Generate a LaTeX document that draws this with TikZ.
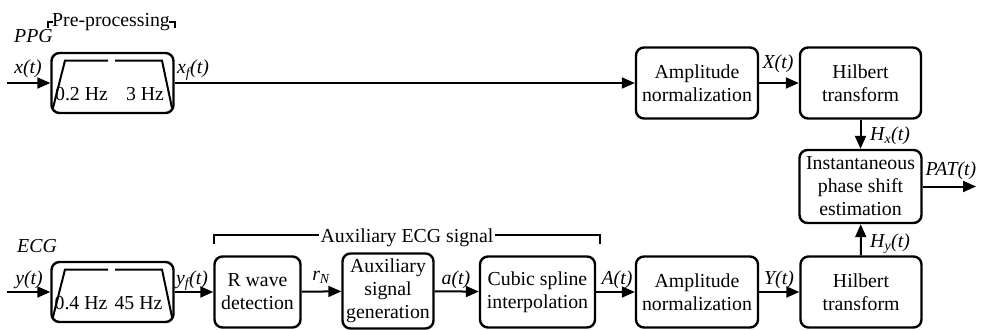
\documentclass[tikz,border=0pt]{standalone}
\usepackage{fontspec}
\setmainfont{Liberation Serif}
\usetikzlibrary{arrows.meta}
\usetikzlibrary{calc}

\tikzset{
  blk/.style={draw, line width=2.4pt, rounded corners=8pt, align=center, inner sep=1pt},
  sig/.style={font=\fontsize{19.8}{23}\selectfont\itshape, inner sep=0pt, anchor=base},
  conn/.style={line width=2pt, -{Triangle[length=13pt,width=11pt]}},
}

\begin{document}
\begin{tikzpicture}[x=1pt, y=-1pt, font=\fontsize{19.8}{23}\selectfont]
\useasboundingbox (0,0) rectangle (981,329);
% band-pass filters
\foreach \nm/\yy/\lo/\hi/\lx/\hx in {filtx/83/0.2 Hz/3 Hz/81.5/145, filty/292/0.4 Hz/45 Hz/81/138.5} {
  \node[blk, minimum width=122, minimum height=60] (\nm) at (112.5,\yy) {};
  \draw[line width=2pt] (53,\yy+25) -- (65,\yy-22.5) -- (108,\yy-22.5)
                        (115,\yy-22.5) -- (162,\yy-22.5) -- (172,\yy+25);
  \node[anchor=base, inner sep=0pt] (\nm-lo) at (\lx,\yy+17) {\lo};
  \node[anchor=base, inner sep=0pt] (\nm-hi) at (\hx,\yy+17) {\hi};
}
\node[anchor=base, inner sep=0pt] (prelab) at (111,27) {Pre-processing};
\draw[line width=2pt] (48,28) -- (48,22) -- (53,22) (169,22) -- (175,22) -- (175,28);
\node[sig, anchor=base west] (ppg) at (14,43) {PPG};
\node[sig, anchor=base west] (ecg) at (17,252) {ECG};

% blocks
\node[blk, minimum width=122, minimum height=71] (amx) at (697,83) {Amplitude\\normalization};
\node[blk, minimum width=121, minimum height=71] (hilx) at (860.5,83) {Hilbert\\transform};
\node[blk, minimum width=122, minimum height=73] (inst) at (860.5,186.5) {Instantaneous\\phase shift\\estimation};
\node[blk, minimum width=86, minimum height=71] (rwave) at (257.5,292) {R wave\\detection};
\node[blk, minimum width=91, minimum height=75] (auxgen) at (388,291) {Auxiliary\\signal\\generation};
\node[blk, minimum width=115, minimum height=71] (cubic) at (537.5,292) {Cubic spline\\interpolation};
\node[blk, minimum width=122, minimum height=71] (amy) at (697,292) {Amplitude\\normalization};
\node[blk, minimum width=121, minimum height=71] (hily) at (861,292) {Hilbert\\transform};

% bracket
\draw[line width=2pt] (214,244) -- (214,235) -- (600,235) -- (600,244);
\node[fill=white, anchor=base, inner xsep=2pt, inner ysep=0pt] (auxlab) at (407,242) {Auxiliary ECG signal};

% connectors
\coordinate (xin) at (7,83);
\coordinate (yin) at (7,292);
\coordinate (patout) at (976,186.5);
\draw[conn] (xin) -- (filtx);
\draw[conn] (filtx) -- (amx);
\draw[conn] (amx) -- (hilx);
\draw[conn] (hilx) -- (inst);
\draw[conn] (inst) -- (patout);
\draw[conn] (yin) -- (filty);
\draw[conn] (filty) -- (rwave);
\draw[conn] (rwave) -- (auxgen);
\draw[conn] (auxgen) -- (cubic);
\draw[conn] (cubic) -- (amy);
\draw[conn] (amy) -- (hily);
\draw[conn] (hily) -- (inst);

% signal labels
\node[sig] (xt) at (28,74) {x(t)};
\node[sig] (xft) at (193,74) {x\textsubscript{f}(t)};
\node[sig] (Xt) at (778,68) {X(t)};
\node[sig, anchor=base west] (hxt) at (870,140) {H\textsubscript{x}(t)};
\node[sig] (patt) at (951,175) {PAT(t)};
\node[sig, anchor=base west] (hyt) at (870,247) {H\textsubscript{y}(t)};
\node[sig] (yt) at (29,284) {y(t)};
\node[sig] (yft) at (192,284) {y\textsubscript{f}(t)};
\node[sig] (rn) at (321,280) {r\textsubscript{N}};
\node[sig] (at) at (456,284) {a(t)};
\node[sig] (At) at (617,284) {A(t)};
\node[sig] (Yt) at (779,284) {Y(t)};
\end{tikzpicture}
\end{document}
